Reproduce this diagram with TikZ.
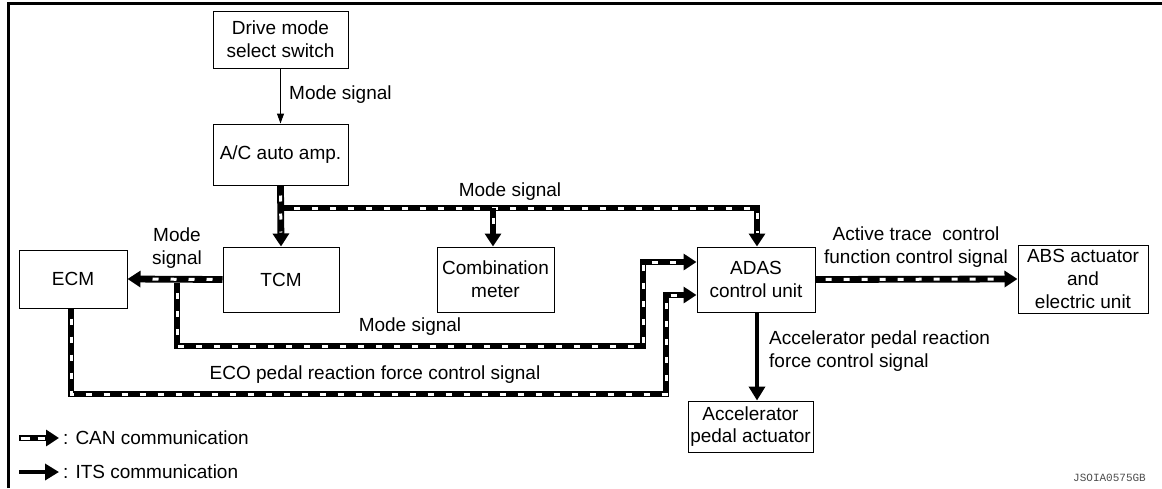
\documentclass[tikz,border=0pt]{standalone}
\usepackage{fontspec}
\setmainfont{Liberation Sans}
\newfontfamily\codefont{Liberation Mono}
\usetikzlibrary{arrows.meta,calc}
\newcommand{\lblfont}{\fontsize{19}{22.6}\selectfont}
\begin{document}
\begin{tikzpicture}[x=1pt,y=-1pt,
  box/.style={draw, line width=1pt, align=center, inner sep=0pt, font=\lblfont},
  lbl/.style={font=\lblfont, align=center, inner sep=0pt},
  canbase/.style={line width=6.8pt, line join=miter, -{Triangle[length=13pt,width=16pt]}},
  can/.style={canbase,
    postaction={draw=white, line width=3pt, -, dash pattern=on 6pt off 12pt, dash phase=8pt, shorten >=14pt}},
  its/.style={line width=4pt, -{Triangle[length=14pt,width=16pt]}},
  thinarrow/.style={line width=1pt, -{Triangle[length=10pt,width=7pt]}},
  frameline/.style={line width=3pt}]
\useasboundingbox (0,0) rectangle (1162,488);
% frame
\coordinate (fa) at (8.5,488);
\coordinate (fb) at (8.5,3.5);
\coordinate (fc) at (1162,3.5);
\draw[frameline] (fa) -- (fb) -- (fc);

% boxes
\node[box, minimum width=135, minimum height=57] (drive) at (280.5,39.5) {Drive mode\\select switch};
\node[box, minimum width=135, minimum height=61] (ac) at (280.5,154.5) {A/C auto amp.};
\node[box, minimum width=108, minimum height=58] (ecm) at (73,279) {ECM};
\node[box, minimum width=116, minimum height=65] (tcm) at (281,279.5) {TCM};
\node[box, minimum width=117, minimum height=65] (meter) at (495.5,279.5) {Combination\\meter};
\node[box, minimum width=118, minimum height=65] (adas) at (756,279.5) {ADAS\\control unit};
\node[box, minimum width=130, minimum height=68] (abs) at (1083,279) {ABS actuator\\and\\electric unit};
\node[box, minimum width=125, minimum height=51] (acc) at (750.5,426.5) {Accelerator\\pedal actuator};

% connectors
\draw[thinarrow] (drive.south) -- (ac.north);
\draw[can] (ac.south) -- (tcm.north);
\coordinate (busstart) at (284.4,208);
\coordinate (busmeter) at (493,208);
\coordinate (busadas) at (757,208);
\draw[can] (busstart) -- (busadas) -- (busadas |- adas.north);
\draw[can] (busmeter) -- (busmeter |- meter.north);
\draw[can] (tcm.west) -- (ecm.east);
\coordinate (m1) at (177,283);
\coordinate (m2) at (177,346);
\coordinate (m3) at (643,346);
\coordinate (m4) at (643,262);
\draw[can] (m1) -- (m2) -- (m3) -- (m4) -- (m4 -| adas.west);
\coordinate (e1) at (71,308);
\coordinate (e2) at (71,394);
\coordinate (e3) at (666,394);
\coordinate (e4) at (666,295);
\draw[can] (e1 |- ecm.south) -- (e2) -- (e3) -- (e4) -- (e4 -| adas.west);
\draw[can] (adas.east) -- (abs.west);
\coordinate (it1) at (757,312);
\draw[its] (it1 |- adas.south) -- (it1 |- acc.north);

% labels
\node[lbl, anchor=west] (l1) at (289,95) {Mode signal};
\node[lbl] (l2) at (510,192) {Mode signal};
\node[lbl] (l3) at (177,248) {Mode\\signal};
\node[lbl] (l4) at (410,327) {Mode signal};
\node[lbl] (l5) at (375,375) {ECO pedal reaction force control signal};
\node[lbl] (l6) at (916,247) {Active trace\ \ control\\function control signal};
\node[lbl, anchor=west, align=left] (l7) at (769,351) {Accelerator pedal reaction\\force control signal};

% legend
\coordinate (lc1) at (19,438);
\coordinate (lc2) at (59,438);
\coordinate (li1) at (19,472);
\coordinate (li2) at (59,472);
\draw[canbase, postaction={draw=white, line width=3pt, -, dash pattern=on 9pt off 8pt, shorten <=1.5pt, shorten >=14pt}] (lc1) -- (lc2);
\draw[its] (li1) -- (li2);
\node[lbl, anchor=west] (lt1) at (63,438) {: CAN communication};
\node[lbl, anchor=west] (lt2) at (63,472) {: ITS communication};
\node[anchor=east, inner sep=0pt, font=\codefont\fontsize{11}{13}\selectfont, text=black!70] (code) at (1146,478) {JSOIA0575GB};
\end{tikzpicture}
\end{document}
